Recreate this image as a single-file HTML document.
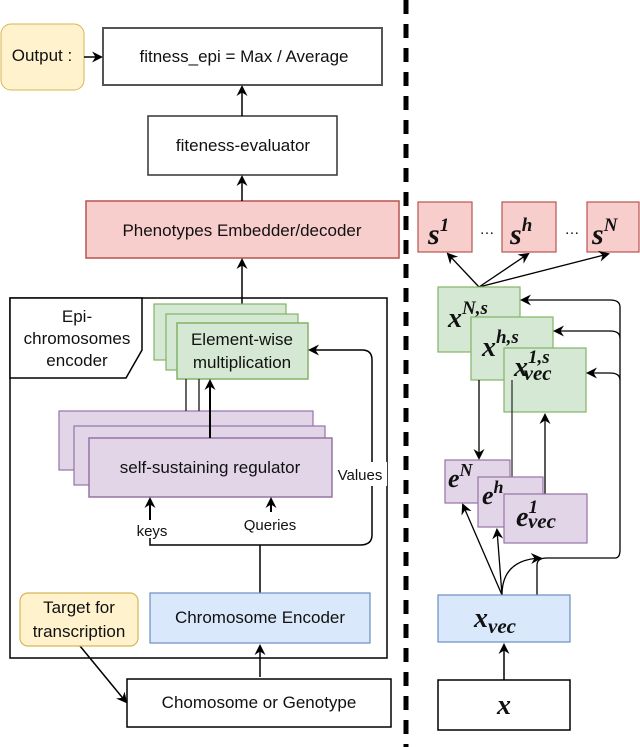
<!DOCTYPE html><html><head><style>body{margin:0;background:#fff}svg{display:block}text{font-family:"Liberation Sans",sans-serif;fill:#111}.m{font-family:"Liberation Serif",serif;font-weight:bold;font-style:italic}</style></head><body>
<svg width="640" height="747" viewBox="0 0 640 747">
<defs><marker id="a" markerWidth="12" markerHeight="12" refX="9" refY="6" orient="auto" markerUnits="userSpaceOnUse"><path d="M0,0.5 L11,6 L0,11.5 L3.5,6z" fill="#000"/></marker></defs>
<g stroke="#000" stroke-width="1.5" fill="none">
<line x1="406" y1="0" x2="406" y2="747" stroke-width="5" stroke-dasharray="14 10"/>
</g>
<rect x="1" y="24" width="83" height="66" rx="10" fill="#fff2cc" stroke="#d6b656"/>
<text x="42" y="61" font-size="17" text-anchor="middle">Output :</text>
<rect x="103" y="28" width="279" height="57" fill="#fff" stroke="#555" stroke-width="2"/>
<text x="244" y="62" font-size="17" text-anchor="middle">fitness_epi = Max / Average</text>
<rect x="148" y="116" width="189" height="59" fill="#fff" stroke="#333" stroke-width="1.5"/>
<text x="243" y="151" font-size="17" text-anchor="middle">fiteness-evaluator</text>
<rect x="86" y="201" width="313" height="57" fill="#f8cecc" stroke="#b85450" stroke-width="1.5"/>
<text x="242" y="236" font-size="17" text-anchor="middle">Phenotypes Embedder/decoder</text>
<g stroke="#000" stroke-width="1.5" fill="none" marker-end="url(#a)">
<line x1="84" y1="57" x2="101" y2="57"/>
<line x1="242" y1="116" x2="242" y2="87"/>
<line x1="242" y1="201" x2="242" y2="177"/>
<line x1="242" y1="323" x2="242" y2="260"/>
</g>
<rect x="10" y="298" width="377" height="360" fill="none" stroke="#000" stroke-width="1.5"/>
<path d="M10,298 H142 V350 L126,378 H10z" fill="#fff" stroke="#000" stroke-width="1.5"/>
<text font-size="17" text-anchor="middle"><tspan x="77" y="322">Epi-</tspan><tspan x="77" y="344">chromosomes</tspan><tspan x="77" y="366">encoder</tspan></text>
<rect x="154" y="304" width="132" height="56" fill="#d5e8d4" stroke="#82b366" stroke-width="1.2"/>
<rect x="166" y="314" width="132" height="56" fill="#d5e8d4" stroke="#82b366" stroke-width="1.2"/>
<rect x="177" y="323" width="131" height="56" fill="#d5e8d4" stroke="#82b366" stroke-width="1.5"/>
<text font-size="17" text-anchor="middle"><tspan x="242" y="345">Element-wise</tspan><tspan x="242" y="368">multiplication</tspan></text>
<rect x="59" y="411" width="254" height="59" fill="#e1d5e7" stroke="#9673a6" stroke-width="1.2"/>
<rect x="74" y="426" width="251" height="59" fill="#e1d5e7" stroke="#9673a6" stroke-width="1.2"/>
<rect x="89" y="438" width="243" height="59" fill="#e1d5e7" stroke="#9673a6" stroke-width="1.5"/>
<text x="210" y="473" font-size="17" text-anchor="middle">self-sustaining regulator</text>
<g stroke="#333" stroke-width="1.5" fill="none">
<line x1="186" y1="411" x2="186" y2="379"/><line x1="199" y1="411" x2="199" y2="379"/>
</g>
<g stroke="#000" stroke-width="2" fill="none" marker-end="url(#a)">
<line x1="210" y1="438" x2="210" y2="381"/>
<line x1="150" y1="520" x2="150" y2="499"/>
<line x1="271" y1="512" x2="271" y2="499"/>
<path d="M260,593 V545 M150,538 V545 H360 Q372,545 372,535 V360 Q372,350 362,350 H310" stroke-width="1.5"/>
<line x1="260" y1="677" x2="260" y2="646" stroke-width="1.5"/>
<line x1="80" y1="646" x2="126" y2="702" stroke-width="1.5"/>
</g>
<rect x="333" y="462" width="54" height="24" fill="#fff"/>
<text x="360" y="480" font-size="15" text-anchor="middle">Values</text>
<text x="152" y="536" font-size="15" text-anchor="middle">keys</text>
<text x="270" y="530" font-size="15" text-anchor="middle">Queries</text>
<rect x="20" y="593" width="118" height="53" rx="8" fill="#fff2cc" stroke="#d6b656" stroke-width="1.2"/>
<text font-size="17" text-anchor="middle"><tspan x="79" y="613">Target for</tspan><tspan x="79" y="637">transcription</tspan></text>
<rect x="150" y="593" width="220" height="50" fill="#dae8fc" stroke="#6c8ebf" stroke-width="1.2"/>
<text x="260" y="623" font-size="17" text-anchor="middle">Chromosome Encoder</text>
<rect x="127" y="679" width="264" height="48" fill="#fff" stroke="#000" stroke-width="1.5"/>
<text x="259" y="708" font-size="17" text-anchor="middle">Chomosome or Genotype</text>
<g fill="#f8cecc" stroke="#b85450" stroke-width="1.2">
<rect x="418" y="202" width="54" height="50"/><rect x="502" y="202" width="54" height="50"/><rect x="587" y="202" width="52" height="50"/></g>
<text class="m" font-size="30" x="428" y="244">s<tspan font-size="19" dy="-13">1</tspan></text>
<text class="m" font-size="30" x="510" y="244">s<tspan font-size="19" dy="-13">h</tspan></text>
<text class="m" font-size="30" x="592" y="244">s<tspan font-size="19" dy="-13">N</tspan></text>
<text x="487" y="234" font-size="15" text-anchor="middle">…</text><text x="572" y="234" font-size="15" text-anchor="middle">…</text>
<g stroke="#000" stroke-width="1.3" fill="none" marker-end="url(#a)">
<line x1="479" y1="287" x2="448" y2="254"/><line x1="479" y1="287" x2="528" y2="254"/><line x1="479" y1="287" x2="608" y2="254"/>
</g>
<rect x="438" y="287" width="82" height="65" fill="#d5e8d4" stroke="#82b366" stroke-width="1.2"/>
<text class="m" font-size="28" x="448" y="327">x<tspan font-size="19" dy="-13">N,s</tspan></text>
<rect x="471" y="317" width="82" height="63" fill="#d5e8d4" stroke="#82b366" stroke-width="1.2"/>
<text class="m" font-size="28" x="482" y="356">x<tspan font-size="19" dy="-13">h,s</tspan></text>
<rect x="504" y="348" width="82" height="64" fill="#d5e8d4" stroke="#82b366" stroke-width="1.2"/>
<text class="m" font-size="28" x="514" y="376">x<tspan font-size="19" dy="-13">1,s</tspan><tspan font-size="21" dx="-26" dy="17">vec</tspan></text>
<g stroke="#000" stroke-width="1.3" fill="none" marker-end="url(#a)">
<line x1="479" y1="380" x2="479" y2="458"/>
<line x1="545" y1="494" x2="545" y2="415"/>
<path d="M537,595 V565 Q537,558 547,558 H615 Q620,558 620,550 V307 Q620,300 610,300 H522"/>
<path d="M620,338 Q620,331 610,331 H555"/>
<path d="M620,380 Q620,373 610,373 H588"/>
<line x1="502" y1="595" x2="463" y2="505"/>
<line x1="502" y1="595" x2="497" y2="530"/>
<path d="M502,595 Q502,560 540,558"/>
</g>
<line x1="512" y1="380" x2="512" y2="477" stroke="#333" stroke-width="1.3"/>
<rect x="445" y="460" width="65" height="43" fill="#e1d5e7" stroke="#9673a6" stroke-width="1.2"/>
<text class="m" font-size="26" x="448" y="487">e<tspan font-size="18" dy="-11">N</tspan></text>
<rect x="478" y="477" width="65" height="50" fill="#e1d5e7" stroke="#9673a6" stroke-width="1.2"/>
<text class="m" font-size="26" x="482" y="504">e<tspan font-size="18" dy="-11">h</tspan></text>
<rect x="504" y="494" width="83" height="49" fill="#e1d5e7" stroke="#9673a6" stroke-width="1.2"/>
<text class="m" font-size="28" x="516" y="526">e<tspan font-size="19" dy="-13">1</tspan><tspan font-size="21" dx="-10" dy="15">vec</tspan></text>
<rect x="438" y="595" width="132" height="47" fill="#dae8fc" stroke="#6c8ebf" stroke-width="1.2"/>
<text class="m" font-size="28" x="474" y="627">x<tspan font-size="21" dy="6">vec</tspan></text>
<line x1="504" y1="680" x2="504" y2="645" stroke="#000" stroke-width="1.5" marker-end="url(#a)"/>
<rect x="438" y="680" width="132" height="50" fill="#fff" stroke="#000" stroke-width="1.5"/>
<text class="m" font-size="28" x="504" y="714" text-anchor="middle">x</text>
</svg></body></html>
